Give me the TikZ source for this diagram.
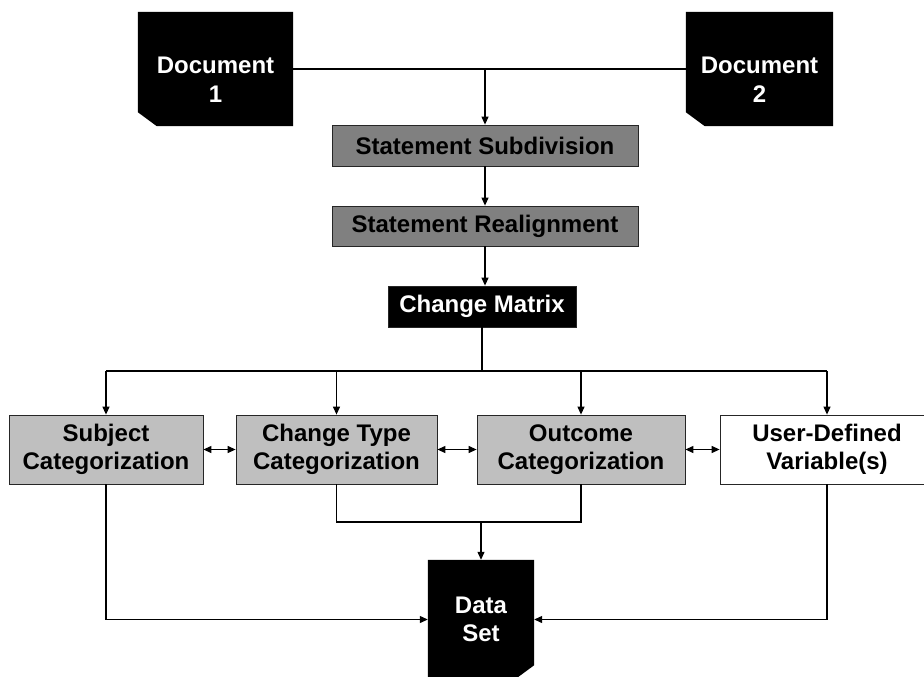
\documentclass[tikz,border=0pt]{standalone}
\usepackage{fontspec}
\setmainfont{Liberation Sans}
\usetikzlibrary{arrows.meta,backgrounds}

\begin{document}
\begin{tikzpicture}[x=1pt,y=-1pt]
  \tikzset{
    BoxStyle/.style = {shape=rectangle, draw=black!85, line width=0.8pt,
      font=\bfseries\fontsize{24}{28.5}\selectfont, align=center, inner sep=0pt},
    StepStyle/.style = {BoxStyle, fill=gray, minimum width=306pt, minimum height=40pt},
    CatStyle/.style = {BoxStyle, fill=black!25, minimum height=69pt},
    DocStyle/.style = {shape=rectangle, inner sep=0pt, text=white, align=center,
      font=\bfseries\fontsize{24}{28.5}\selectfont},
    LineStyle/.style = {line width=1.2pt},
    ArrowStyle/.style = {LineStyle, -{Triangle[length=8pt,width=7pt]}},
    BothStyle/.style = {LineStyle,
      {Triangle[length=8pt,width=7pt]}-{Triangle[length=8pt,width=7pt]}}
  }
  \useasboundingbox (0,0) rectangle (924,677);
  \clip (0,0) rectangle (924,677);
  % sources
  \node[DocStyle, minimum width=155pt, minimum height=114pt] (doc1) at (215.5,69) {};
  \node[DocStyle] (doc1txt) at (215.5,79.5) {Document\\1};
  \node[DocStyle, minimum width=147pt, minimum height=114pt] (doc2) at (759.5,69) {};
  \node[DocStyle] (doc2txt) at (759.5,79.5) {Document\\2};
  % processing steps
  \node[StepStyle, minimum height=41pt] (subdiv) at (485,145.5) {Statement Subdivision};
  \node[StepStyle] (realign) at (485,226) {Statement Realignment};
  \node[BoxStyle, fill=black, text=white, minimum width=188pt,
        minimum height=41pt] (matrix) at (482,306.5) {Change Matrix};
  % categorizations
  \node[CatStyle, minimum width=194pt] (subj) at (106,449.5) {Subject\\Categorization};
  \node[CatStyle, minimum width=201pt] (ctype) at (336.5,449.5) {Change Type\\Categorization};
  \node[CatStyle, minimum width=208pt] (outc) at (581,449.5) {Outcome\\Categorization};
  \node[CatStyle, fill=white, minimum width=214pt] (user) at (827,449.5) {User-Defined\\Variable(s)};
  % result
  \node[DocStyle, minimum width=106pt, minimum height=119pt] (data) at (481,619.5) {Data\\Set};

  % cut-corner outlines
  \begin{scope}[on background layer]
    \foreach \n in {doc1,doc2}
      \fill (\n.north west) -- (\n.north east) -- (\n.south east)
        -- ([xshift=19pt]\n.south west) -- ([yshift=14pt]\n.south west) -- cycle;
    \fill (data.north west) -- (data.north east) -- ([yshift=14pt]data.south east)
      -- ([xshift=-19pt]data.south east) -- (data.south west) -- cycle;
  \end{scope}

  \coordinate (bus) at (482,371);
  \coordinate (merge) at (481,522);

  \draw[LineStyle] (doc1.east) -- (doc2.west);
  \draw[ArrowStyle] (doc1.east -| subdiv.north) -- (subdiv.north);
  \draw[ArrowStyle] (subdiv.south) -- (realign.north);
  \draw[ArrowStyle] (realign.south) -- (realign.south |- matrix.north);
  \draw[LineStyle] (matrix.south) -- (bus);
  \draw[LineStyle] (subj.north |- bus) -- (user.north |- bus);
  \foreach \n in {subj,ctype,outc,user}
    \draw[ArrowStyle] (\n.north |- bus) -- (\n.north);
  \draw[BothStyle] (subj) -- (ctype);
  \draw[BothStyle] (ctype) -- (outc);
  \draw[BothStyle] (outc) -- (user);
  \draw[LineStyle] (ctype.south) |- (merge) -| (outc.south);
  \draw[ArrowStyle] (merge) -- (data.north);
  \draw[ArrowStyle] (subj.south) |- (data.west);
  \draw[ArrowStyle] (user.south) |- (data.east);
\end{tikzpicture}
\end{document}
